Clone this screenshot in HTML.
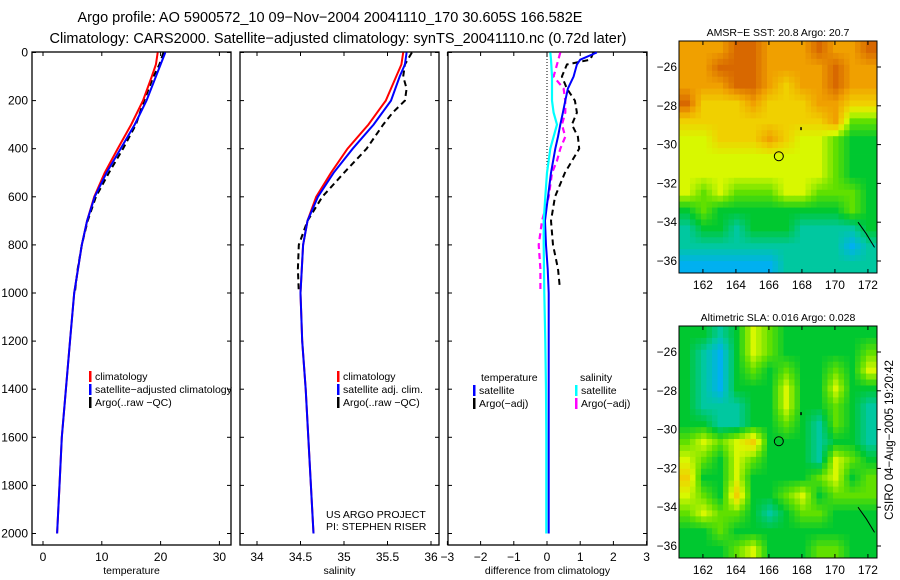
<!DOCTYPE html>
<html><head><meta charset="utf-8"><style>
body{margin:0;background:#fff}
svg{display:block;font-family:"Liberation Sans",sans-serif}
</style></head><body>
<svg id="s" width="900" height="580" xmlns="http://www.w3.org/2000/svg">
<text x="330" y="22" font-size="14.5" text-anchor="middle">Argo profile: AO 5900572_10 09−Nov−2004 20041110_170 30.605S 166.582E</text>
<text x="338" y="43" font-size="14.5" text-anchor="middle">Climatology: CARS2000. Satellite−adjusted climatology: synTS_20041110.nc (0.72d later)</text>
<g id="g"></g>
</svg>
<script>
// ---- data ----
const tDepth=[0,50,100,200,300,400,500,600,700,800,1000,1200,1400,1600,1800,2000];
const tClim=[19.5,19.2,18.5,17,15,12.7,10.5,8.7,7.5,6.6,5.3,4.6,3.9,3.2,2.8,2.4];
const tSat=[20.8,20,19.2,17.6,15.6,13.2,10.8,8.8,7.5,6.6,5.3,4.6,3.9,3.2,2.8,2.4];
const aDepth=[0,50,100,150,200,250,300,400,500,600,700,800,900,1000];
const tArgo=[20.5,19.8,18.8,18.0,17.2,16.5,15.8,13.6,11.2,9.0,7.6,6.6,5.9,5.4];
const sClim=[35.68,35.66,35.6,35.48,35.28,35.04,34.85,34.68,34.58,34.53,34.5,34.52,34.56,34.59,34.62,34.65];
const sSat=[35.72,35.7,35.64,35.54,35.34,35.1,34.88,34.7,34.58,34.53,34.5,34.52,34.56,34.59,34.62,34.65];
const sArgo=[35.78,35.7,35.68,35.72,35.7,35.56,35.45,35.26,35.0,34.75,34.58,34.48,34.47,34.48];
const dDepth=[0,30,50,100,150,200,250,300,350,400,500,600,700,800,900,1000,1200,1400,1600,1800,2000];
const dTsat=[1.5,1.0,0.9,0.8,0.63,0.55,0.48,0.4,0.33,0.25,0.12,0.03,-0.06,-0.03,0.02,0.05,0.05,0.05,0.05,0.05,0.05];
const dSsat=[0.1,0.12,0.13,0.15,0.15,0.15,0.2,0.3,0.2,0.1,0.0,-0.05,-0.1,-0.1,-0.09,-0.08,-0.05,-0.03,-0.02,-0.02,-0.02];
const dTargoDepth=[0,30,50,100,150,200,250,300,350,400,500,600,700,800,900,980];
const dTargo=[1.4,1.3,0.6,0.45,0.6,0.84,0.9,0.75,0.93,0.97,0.54,0.24,0.12,0.18,0.33,0.39];
const dSargoDepth=[0,50,100,150,200,250,300,350,400,450,500,600,700,800,900,1000];
const dSargo=[0.4,0.3,0.2,0.5,0.55,0.55,0.45,0.55,0.4,0.3,0.15,0.05,-0.15,-0.25,-0.2,-0.2];
const depthTicks=[0,200,400,600,800,1000,1200,1400,1600,1800,2000];
const tTicks=[0,10,20,30];
const sTicks=[34,34.5,35,35.5,36];
const dTicks=[-3,-2,-1,0,1,2,3];
const sstGrid=["888998889889","889998888988","888998788988","977787778877","777777777855","667778766544","666666666544","666666666544","656555665554","454444444454","344344433334","333333333323","222222333333"];
const slaGrid=["443465444444","432465444445","432454544546","432444644644","433344644543","443344543543","565674443443","654654443654","744644445645","654744564555","565543455444","445444444444","444564445544"];
const lonTicks=[162,164,166,168,170,172];
const latTicks=[-26,-28,-30,-32,-34,-36];
const argoPos=[166.6,-30.6];

const NS="http://www.w3.org/2000/svg";
const G=document.getElementById('g');
function el(tag,attrs,parent,name,inter){const e=document.createElementNS(NS,tag);for(const k in attrs)e.setAttribute(k,attrs[k]);


(parent||G).appendChild(e);return e;}
const yD=z=>52.5+0.2405*z;
function panel(x0,x1,xf,ticks,label,name,showY){
 const g=el('g',{},G,name);
 el('rect',{x:x0,y:52,width:x1-x0,height:493,fill:'none',stroke:'#000','stroke-width':1.3},g,name+'-frame');
 ticks.forEach(t=>{const x=xf(t);
  el('line',{x1:x,x2:x,y1:545,y2:541,stroke:'#000'},g,'x-tick');
  el('line',{x1:x,x2:x,y1:52,y2:56,stroke:'#000'},g,'x-tick');
  const tx=el('text',{x:x,y:561,'font-size':12,'text-anchor':'middle'},g,'x-tick-label');tx.textContent=(t<0?'−'+(-t):t);});
 depthTicks.forEach(d=>{const y=yD(d);
  el('line',{x1:x0,x2:x0+4,y1:y,y2:y,stroke:'#000'},g,'y-tick');
  el('line',{x1:x1-4,x2:x1,y1:y,y2:y,stroke:'#000'},g,'y-tick');
  if(showY){const tx=el('text',{x:x0-4,y:y+4,'font-size':12,'text-anchor':'end'},g,'y-tick-label');tx.textContent=d;}});
 const lb=el('text',{x:(x0+x1)/2,y:574,'font-size':10.5,'text-anchor':'middle'},g,name+'-x-axis-title');lb.textContent=label;
 return g;}
function line(g,xs,zs,xf,color,w,dash,name){
 const p=xs.map((v,i)=>xf(v).toFixed(1)+','+yD(zs[i]).toFixed(1)).join(' ');
 const a={points:p,fill:'none',stroke:color,'stroke-width':w};if(dash)a['stroke-dasharray']=dash;
 el('polyline',a,g,name);}
function legend(g,x,y,items){items.forEach((it,i)=>{
 el('rect',{x:x,y:y+i*13-9,width:2.5,height:11,fill:it[1]},g,'legend-swatch');
 const t=el('text',{x:x+6,y:y+i*13,'font-size':10.5},g,'legend-entry');t.textContent=it[0];});}

const xT=t=>43+5.88*t;
const p1=panel(32,231,xT,tTicks,'temperature','temperature-panel',true);
line(p1,tArgo,aDepth,xT,'#000',2,'6,4','argo-temperature-line');
line(p1,tClim,tDepth,xT,'#f00',2,null,'climatology-temperature-line');
line(p1,tSat,tDepth,xT,'#00f',2,null,'satellite-temperature-line');
legend(p1,89,380,[['climatology','#f00'],['satellite−adjusted climatology','#00f'],['Argo(..raw −QC)','#000']]);

const xS=s=>257+87*(s-34);
const p2=panel(240,439,xS,sTicks,'salinity','salinity-panel',false);
line(p2,sArgo,aDepth,xS,'#000',2,'6,4','argo-salinity-line');
line(p2,sClim,tDepth,xS,'#f00',2,null,'climatology-salinity-line');
line(p2,sSat,tDepth,xS,'#00f',2,null,'satellite-salinity-line');
legend(p2,337,380,[['climatology','#f00'],['satellite adj. clim.','#00f'],['Argo(..raw −QC)','#000']]);
let t1=el('text',{x:326,y:518,'font-size':10.5},p2,'project-label');t1.textContent='US ARGO PROJECT';
let t2=el('text',{x:326,y:530,'font-size':10.5},p2,'pi-label');t2.textContent='PI: STEPHEN RISER';

const xDf=d=>547+33.2*d;
const p3=panel(448,647,xDf,dTicks,'difference from climatology','difference-panel',false);
el('line',{x1:xDf(0),x2:xDf(0),y1:53,y2:yD(520),stroke:'#000','stroke-dasharray':'1,2'},p3,'zero-line');
line(p3,dTargo,dTargoDepth,xDf,'#000',2,'6,4','argo-temp-diff-line');
line(p3,dSargo,dSargoDepth,xDf,'#f0f',2.2,'6,4','argo-sal-diff-line');
line(p3,dTsat,dDepth,xDf,'#00f',2,null,'satellite-temp-diff-line');
line(p3,dSsat,dDepth,xDf,'#0ff',2.2,null,'satellite-sal-diff-line');
let lt=el('text',{x:481,y:381,'font-size':10.5},p3,'legend-title-temperature');lt.textContent='temperature';
legend(p3,473,394,[['satellite','#00f'],['Argo(−adj)','#000']]);
let ls=el('text',{x:580,y:381,'font-size':10.5},p3,'legend-title-salinity');ls.textContent='salinity';
legend(p3,575,394,[['satellite','#0ff'],['Argo(−adj)','#f0f']]);

// maps
const stops=[[0,[0,80,255]],[2,[0,176,240]],[3,[0,200,160]],[4,[0,200,48]],[5,[96,224,0]],[6,[216,248,0]],[7,[240,208,0]],[8,[240,160,0]],[9,[216,104,0]]];
function col(v){v=Math.max(0,Math.min(9,v));for(let i=1;i<stops.length;i++){if(v<=stops[i][0]){const a=stops[i-1],b=stops[i],f=(v-a[0])/(b[0]-a[0]);
 return 'rgb('+a[1].map((c,k)=>Math.round(c+(b[1][k]-c)*f)).join(',')+')';}}return 'rgb(216,104,0)';}
function map(top,grid,title,name){
 const g=el('g',{},G,name);
 const L=679,R=877,B=top+232;
 const xL=lon=>L+(lon-160.55)*16.5, yL=lat=>top+(-24.66-lat)*19.4;
 const rows=grid.length, cols=grid[0].length, S=3;
 const val=(r,c)=>+grid[Math.max(0,Math.min(rows-1,r))][Math.max(0,Math.min(cols-1,c))];
 const cw=(R-L)/(cols*S), ch=(B-top)/(rows*S);
 for(let r=0;r<rows*S;r++)for(let c=0;c<cols*S;c++){
  const fr=(r+0.5)/S-0.5, fc=(c+0.5)/S-0.5, r0=Math.floor(fr), c0=Math.floor(fc), a=fr-r0, b=fc-c0;
  const v=val(r0,c0)*(1-a)*(1-b)+val(r0,c0+1)*(1-a)*b+val(r0+1,c0)*a*(1-b)+val(r0+1,c0+1)*a*b;
  el('rect',{x:(L+c*cw).toFixed(2),y:(top+r*ch).toFixed(2),width:(cw+0.4).toFixed(2),height:(ch+0.4).toFixed(2),fill:col(v)},g,'map-cell');}
 el('polyline',{points:`${xL(171.4)},${yL(-34)} ${xL(171.9)},${yL(-34.6)} ${xL(172.4)},${yL(-35.3)}`,fill:'none',stroke:'#000'},g,'coastline');
 el('circle',{cx:xL(argoPos[0]),cy:yL(argoPos[1]),r:4.5,fill:'none',stroke:'#000'},g,'argo-location-marker');
 el('rect',{x:xL(167.9),y:yL(-29.1),width:1.5,height:3,fill:'#000'},g,'island-marker');
 el('rect',{x:L,y:top,width:R-L,height:B-top,fill:'none',stroke:'#000'},g,'map-frame');
 lonTicks.forEach(v=>{const x=xL(v);
  el('line',{x1:x,x2:x,y1:top,y2:top+4,stroke:'#000'},g,'lon-tick');
  el('line',{x1:x,x2:x,y1:B-4,y2:B,stroke:'#000'},g,'lon-tick');
  const t=el('text',{x:x,y:B+16,'font-size':12,'text-anchor':'middle'},g,'lon-tick-label');t.textContent=v;});
 latTicks.forEach(v=>{const y=yL(v);
  el('line',{x1:R,x2:R+4,y1:y,y2:y,stroke:'#000'},g,'lat-tick');
  const t=el('text',{x:L-2,y:y+4,'font-size':12,'text-anchor':'end'},g,'lat-tick-label');t.textContent='−'+(-v);});
 const tt=el('text',{x:(L+R)/2,y:top-5,'font-size':10.5,'text-anchor':'middle'},g,name+'-title');tt.textContent=title;}
map(41,sstGrid,'AMSR−E SST: 20.8 Argo: 20.7','sst-map');
map(326,slaGrid,'Altimetric SLA: 0.016 Argo: 0.028','sla-map');
const ct=el('text',{x:0,y:0,'font-size':11.5,'text-anchor':'middle',transform:'translate(893,440) rotate(-90)'},G,'timestamp-label');ct.textContent='CSIRO 04−Aug−2005 19:20:42';
</script>
</body></html>
